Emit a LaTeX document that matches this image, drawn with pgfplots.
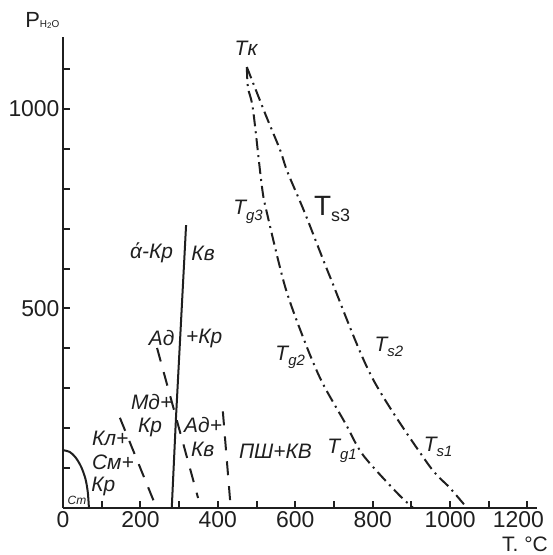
\documentclass[border=0pt]{standalone}
\usepackage{fontspec}
\setmainfont{Liberation Sans}
\usepackage{pgfplots}
\pgfplotsset{compat=1.18}

\newcommand\lab{\fontsize{21}{23}\selectfont\itshape}
\newcommand\sub[1]{\raisebox{-0.25em}{\fontsize{15}{15}\selectfont #1}}

\begin{document}
\begin{tikzpicture}
\begin{axis}[
  x=0.387bp, y=0.399bp,
  xmin=0, xmax=1225, ymin=0, ymax=1180,
  axis x line*=bottom, axis y line*=left,
  axis line style={line width=2.6bp, black!88},
  xtick={0,200,...,1200}, minor xtick={100,300,...,1100},
  xticklabels={0,200,400,600,800,1000,\hspace{-18bp}1200},
  ytick={500,1000}, yticklabels={500,1000},
  minor ytick={100,200,300,400,600,700,800,900,1100},
  tick align=inside,
  major tick length=7bp, minor tick length=7bp,
  tick style={line width=2bp, black!88},
  tick label style={font=\fontsize{23}{23}\selectfont, text=black!88},
  clip=false,
]
% bounding box of the whole picture
\path (-162.8,-117.8) rectangle (1266,1273);

% small arc at the origin
\addplot[line width=2bp, black!88, smooth] coordinates {
  (0,145) (18,140) (33,126) (47,103) (58,73) (64,40) (67,0)};
% solid boundary
\addplot[line width=2bp, black!88] coordinates {
  (281,0) (292,228) (318,709)};
% dashed lines
\addplot[line width=2bp, black!88, dash pattern=on 14bp off 11bp] coordinates {
  (243,401) (349,25)};
\addplot[line width=2bp, black!88, dash pattern=on 14bp off 11bp] coordinates {
  (147,226) (240,4)};
\addplot[line width=2bp, black!88, dash pattern=on 14bp off 11bp] coordinates {
  (413,242) (433,4)};
% Tg
\addplot[line width=2bp, black!88, smooth, dash pattern=on 12bp off 5bp on 2bp off 5bp] coordinates {
  (475,1105) (478,1053) (491,998) (514,805) (527,739) (574,554) (625,416)
  (669,316) (729,213) (775,133) (863,38) (905,0)};
% Ts
\addplot[line width=2bp, black!88, smooth, dash pattern=on 12bp off 5bp on 2bp off 5bp] coordinates {
  (475,1105) (496,1053) (527,977) (561,897) (580,842) (625,739) (690,579)
  (798,328) (941,113) (1000,50) (1044,0)};

% labels
\node[font=\fontsize{22}{22}\selectfont, anchor=base west, inner sep=0, text=black!88]
  at (-98,1203) {P\fontsize{10}{10}\selectfont H\raisebox{-0.1ex}{\fontsize{8}{8}\selectfont 2}O};
\node[font=\fontsize{21}{21}\selectfont, anchor=east, inner sep=0, text=black!88]
  at (1253,-92) {T. °C};

\begin{scope}[every node/.style={font=\lab, text=black!88, inner sep=0}]
\node at (473,1153) {Tк};
\node at (478,742) {T\sub{g3}};
\node at (587,378) {T\sub{g2}};
\node at (721,143) {T\sub{g1}};
\node at (842,403) {T\sub{s2}};
\node at (969,153) {T\sub{s1}};
\node[font=\fontsize{28}{28}\selectfont] at (695,749)
  {T\raisebox{-0.2em}{\fontsize{18}{18}\selectfont s3}};
\node at (549,143) {ПШ+КВ};
\node at (362,208) {Ад+};
\node at (361,146) {Кв};
\node at (229,266) {Мд+};
\node at (225,203) {Кр};
\node at (122,175) {Кл+};
\node at (129,115) {См+};
\node at (104,55) {Кр};
\node[font=\fontsize{12}{12}\selectfont\itshape] at (36,18) {Ст};
\node at (255,426) {Ад};
\node at (365,426) {+Кр};
\node at (229,639) {ά-Кр};
\node at (362,639) {Кв};
\end{scope}
\end{axis}
\end{tikzpicture}
\end{document}
